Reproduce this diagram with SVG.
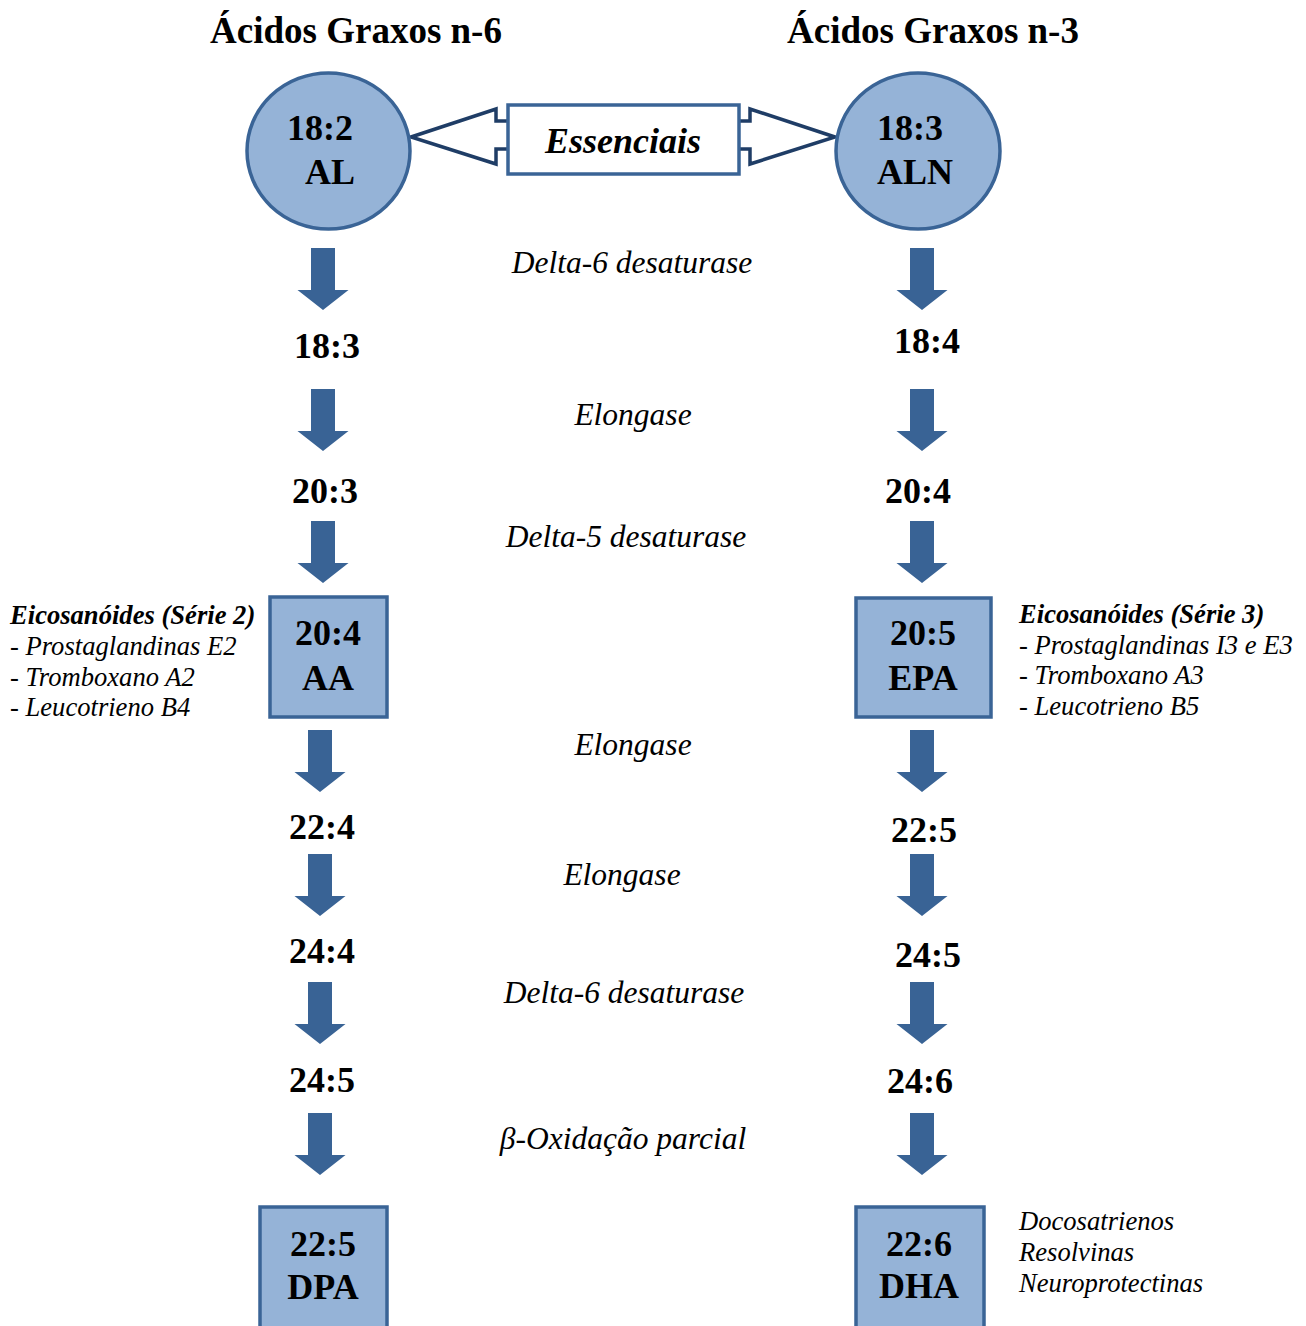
<svg xmlns="http://www.w3.org/2000/svg" width="1306" height="1326" viewBox="0 0 1306 1326">
<style>
text{font-family:"Liberation Serif","Times New Roman",serif;fill:#000}
.title{font-size:37px;font-weight:bold;text-anchor:middle}
.num{font-size:36px;font-weight:bold;text-anchor:middle}
.enz{font-size:31.5px;font-style:italic;text-anchor:middle}
.side{font-size:26.6px;font-style:italic}
.sideb{font-size:26.6px;font-style:italic;font-weight:bold}
.node{fill:#95B3D7;stroke:#3A6496;stroke-width:3.5}
.arr{fill:#396395}
.ess{fill:#fff;stroke:#1F3D66;stroke-width:3.5;stroke-linejoin:miter}
</style>
<defs>
<path id="da" d="M-12,0 H12 V42 H25.5 L0,62 L-25.5,42 H-12 Z"/>
</defs>
<rect width="1306" height="1326" fill="#fff"/>
<g id="titles">
<text class="title" x="356" y="43">Ácidos Graxos n-6</text>
<text class="title" x="933" y="43">Ácidos Graxos n-3</text>
</g>
<g id="connectors">
<polygon class="ess" points="411,137 496,109 496,121 510,121 510,149 496,149 496,164"/>
<polygon class="ess" points="835,137 750,109 750,121 736,121 736,149 750,149 750,164"/>
<g class="arr">
<use href="#da" x="323" y="248"/>
<use href="#da" x="323" y="389"/>
<use href="#da" x="323" y="521"/>
<use href="#da" x="320" y="730"/>
<use href="#da" x="320" y="854"/>
<use href="#da" x="320" y="982"/>
<use href="#da" x="320" y="1113"/>
<use href="#da" x="922" y="248"/>
<use href="#da" x="922" y="389"/>
<use href="#da" x="922" y="521"/>
<use href="#da" x="922" y="730"/>
<use href="#da" x="922" y="854"/>
<use href="#da" x="922" y="982"/>
<use href="#da" x="922" y="1113"/>
</g>
</g>
<g id="essenciais">
<rect x="508" y="105" width="231" height="69" fill="#fff" stroke="#3A6496" stroke-width="3.5"/>
<text x="623" y="153" style="font-size:36px;font-style:italic;font-weight:bold;text-anchor:middle">Essenciais</text>
</g>
<g id="al">
<ellipse class="node" cx="328.5" cy="151" rx="81.5" ry="78"/>
<text class="num" x="320" y="140">18:2</text>
<text class="num" x="330" y="184">AL</text>
</g>
<g id="aln">
<ellipse class="node" cx="918" cy="151" rx="82" ry="78"/>
<text class="num" x="910" y="140">18:3</text>
<text class="num" x="915" y="184">ALN</text>
</g>
<g id="enzymes">
<text class="enz" x="632" y="273">Delta-6 desaturase</text>
<text class="enz" x="633" y="425">Elongase</text>
<text class="enz" x="626" y="547">Delta-5 desaturase</text>
<text class="enz" x="633" y="755">Elongase</text>
<text class="enz" x="622" y="885">Elongase</text>
<text class="enz" x="624" y="1003">Delta-6 desaturase</text>
<text class="enz" x="623" y="1149">β-Oxidação parcial</text>
</g>
<g id="n6-steps">
<text class="num" x="327" y="358">18:3</text>
<text class="num" x="325" y="503">20:3</text>
<text class="num" x="322" y="839">22:4</text>
<text class="num" x="322" y="963">24:4</text>
<text class="num" x="322" y="1092">24:5</text>
</g>
<g id="n3-steps">
<text class="num" x="927" y="353">18:4</text>
<text class="num" x="918" y="503">20:4</text>
<text class="num" x="924" y="842">22:5</text>
<text class="num" x="928" y="967">24:5</text>
<text class="num" x="920" y="1093">24:6</text>
</g>
<g id="aa">
<rect class="node" x="270" y="597" width="117" height="120"/>
<text class="num" x="328" y="645">20:4</text>
<text class="num" x="328" y="690">AA</text>
</g>
<g id="epa">
<rect class="node" x="856" y="598" width="135" height="119"/>
<text class="num" x="923" y="645">20:5</text>
<text class="num" x="923" y="690">EPA</text>
</g>
<g id="dpa">
<rect class="node" x="260" y="1207" width="127" height="130"/>
<text class="num" x="323" y="1256">22:5</text>
<text class="num" x="323" y="1299">DPA</text>
</g>
<g id="dha">
<rect class="node" x="856" y="1207" width="128" height="130"/>
<text class="num" x="919" y="1256">22:6</text>
<text class="num" x="919" y="1298">DHA</text>
</g>
<g id="eico2">
<text class="sideb" x="10" y="624">Eicosanóides (Série 2)</text>
<text class="side" x="10" y="655">- Prostaglandinas E2</text>
<text class="side" x="10" y="686">- Tromboxano A2</text>
<text class="side" x="10" y="716">- Leucotrieno B4</text>
</g>
<g id="eico3">
<text class="sideb" x="1019" y="623">Eicosanóides (Série 3)</text>
<text class="side" x="1019" y="654">- Prostaglandinas I3 e E3</text>
<text class="side" x="1019" y="684">- Tromboxano A3</text>
<text class="side" x="1019" y="715">- Leucotrieno B5</text>
</g>
<g id="dha-products">
<text class="side" x="1019" y="1230">Docosatrienos</text>
<text class="side" x="1019" y="1261">Resolvinas</text>
<text class="side" x="1019" y="1292">Neuroprotectinas</text>
</g>
</svg>
